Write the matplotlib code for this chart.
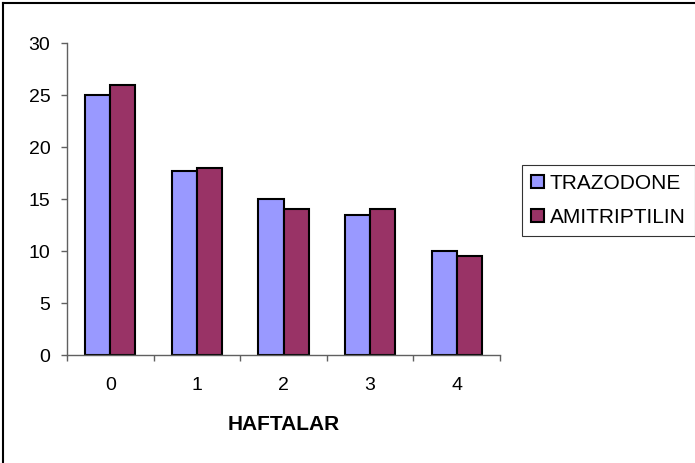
import matplotlib
matplotlib.use("Agg")
import matplotlib.pyplot as plt
import numpy as np
from matplotlib.lines import Line2D

plt.rcParams['font.family'] = ['Liberation Sans', 'DejaVu Sans']

weeks = ["0", "1", "2", "3", "4"]
trazodone = [25, 17.7, 15, 13.5, 10]
amitriptilin = [26, 18, 14, 14, 9.5]
series_names = ["TRAZODONE", "AMITRIPTILIN"]
colors = ["#9999FF", "#993366"]
yticks = [0, 5, 10, 15, 20, 25, 30]

fig = plt.figure(figsize=(6.95, 4.63), dpi=100)
ax = fig.add_axes([67/695, 108/463, 433/695, 312/463])

x = np.arange(len(weeks))
w = 0.29
b1 = ax.bar(x - w/2, trazodone, w, color=colors[0], edgecolor="black", linewidth=1.5, label=series_names[0])
b2 = ax.bar(x + w/2, amitriptilin, w, color=colors[1], edgecolor="black", linewidth=1.5, label=series_names[1])

ax.set_xlim(-0.5, len(weeks) - 0.5)
ax.set_ylim(0, 30)
ax.set_yticks(yticks)
ax.set_xticks(x)
ax.set_xticklabels(weeks)
ax.set_xticks(np.arange(-0.5, len(weeks)), minor=True)
ax.tick_params(axis='x', which='major', length=0, pad=16, labelsize=14)
ax.tick_params(axis='x', which='minor', length=4, width=1, color="#606060", direction='out')
ax.tick_params(axis='y', length=4, width=1, color="#606060", labelsize=14, pad=8)
for s in ["top", "right"]:
    ax.spines[s].set_visible(False)
for s in ["left", "bottom"]:
    ax.spines[s].set_color("#606060")
    ax.spines[s].set_linewidth(1)

ax.set_xlabel("HAFTALAR", fontsize=15, fontweight='bold', labelpad=15)

leg = fig.legend(handles=[b1, b2], labels=series_names, loc='upper left',
                 bbox_to_anchor=(522/695, 1 - 165/463), frameon=True, fancybox=False,
                 edgecolor="black", fontsize=15, handlelength=0.62, handleheight=0.62,
                 handletextpad=0.3, borderpad=0.42, labelspacing=0.72, borderaxespad=0)
leg.get_frame().set_linewidth(0.8)

# figure border: left and top edges only
fig.add_artist(Line2D([3.5/695, 3.5/695], [0, 1 - 3/463], transform=fig.transFigure,
                      color="black", linewidth=1.5))
fig.add_artist(Line2D([3/695, 1], [1 - 3/463, 1 - 3/463], transform=fig.transFigure,
                      color="black", linewidth=1.5))

fig.savefig("out.png", dpi=100)
